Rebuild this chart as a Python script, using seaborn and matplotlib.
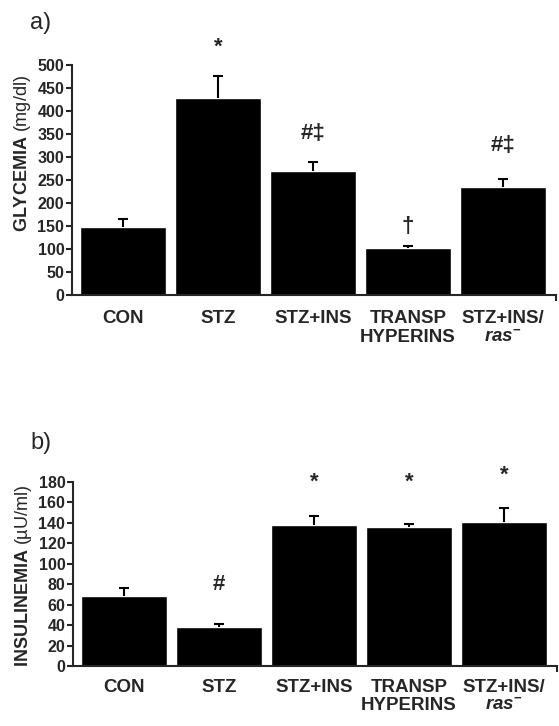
import matplotlib
matplotlib.use("Agg")
import matplotlib.pyplot as plt
import seaborn as sns
import numpy as np

categories = ["CON", "STZ", "STZ+INS", "TRANSP\nHYPERINS", "STZ+INS/\n$\\mathit{ras}^{-}$"]

glycemia = [148, 428, 270, 102, 235]
glycemia_err = [17, 48, 19, 4, 17]
glyc_marks = ["", "*", "#\u2021", "\u2020", "#\u2021"]
glyc_mark_y = [0, 539, 352, 148, 326]
glyc_ticks = list(range(0, 501, 50))

insulinemia = [68.5, 38, 138, 136, 141]
insulinemia_err = [7.5, 3, 9, 3, 14]
ins_marks = ["", "#", "*", "*", "*"]
ins_mark_y = [0, 80, 180, 180, 187]
ins_ticks = list(range(0, 181, 20))

sns.set_style("ticks")
plt.rcParams["font.family"] = ["Liberation Sans", "DejaVu Sans"]
plt.rcParams["mathtext.fontset"] = "custom"
plt.rcParams["mathtext.rm"] = "Liberation Sans:bold"
plt.rcParams["mathtext.it"] = "Liberation Sans:italic:bold"
plt.rcParams["mathtext.bf"] = "Liberation Sans:bold"

fig = plt.figure(figsize=(5.59, 7.26), dpi=100)
W, H = 559, 726
ax1 = fig.add_axes([72 / W, (H - 295) / H, (556 - 72) / W, (295 - 65) / H])
ax2 = fig.add_axes([73 / W, (H - 666) / H, (557 - 73) / W, (666 - 482) / H])


def panel(ax, vals, errs, marks, mark_y, ticks, ylim, ylabel, label_y, pad):
    xs = list(range(len(categories)))
    sns.barplot(x=xs, y=vals, color="black",
                saturation=1, width=0.905, ax=ax, errorbar=None)
    eb = ax.errorbar(xs, vals,
                     yerr=[np.zeros(len(errs)), errs], fmt="none",
                     ecolor="black", elinewidth=1.5, capsize=3.5, capthick=1.5)
    caps = eb[1]
    if len(caps) == 2:
        caps[0].set_visible(False)
    for i, (m, yy) in enumerate(zip(marks, mark_y)):
        if m:
            ax.text(i, yy, m, ha="center", va="center", fontsize=16,
                    fontweight="bold")
    ax.set_xlim(-0.537, 4.558)
    ax.set_ylim(*ylim)
    ax.set_yticks(ticks)
    ax.set_yticklabels([str(t) for t in ticks], fontsize=11.5, fontweight="bold")
    ax.set_xticks(xs)
    ax.set_xticklabels(categories, fontsize=13.5, fontweight="bold",
                       linespacing=1.1)
    ax.tick_params(axis="x", length=0, pad=pad)
    ax.tick_params(axis="y", length=4, width=1.5, pad=1.5, direction="out")
    ax.set_xticks([4.558], minor=True)
    ax.tick_params(axis="x", which="minor", length=4, width=1.5)
    for s in ["top", "right"]:
        ax.spines[s].set_visible(False)
    for s in ["left", "bottom"]:
        ax.spines[s].set_linewidth(1.5)
    ax.set_ylabel(ylabel, fontsize=13)
    ax.yaxis.set_label_coords(-0.08, label_y)


panel(ax1, glycemia, glycemia_err, glyc_marks, glyc_mark_y, glyc_ticks,
      (0, 500), r"$\mathbf{GLYCEMIA}$ (mg/dl)", 0.617, 11)
panel(ax2, insulinemia, insulinemia_err, ins_marks, ins_mark_y, ins_ticks,
      (0, 180), "$\\mathbf{INSULINEMIA}$ (\u00b5U/ml)", 0.49, 9)

fig.text(30 / W, 1 - 23 / H, "a)", fontsize=17, va="center", ha="left")
fig.text(30 / W, 1 - 443 / H, "b)", fontsize=17, va="center", ha="left")

fig.savefig("out.png", dpi=100)
